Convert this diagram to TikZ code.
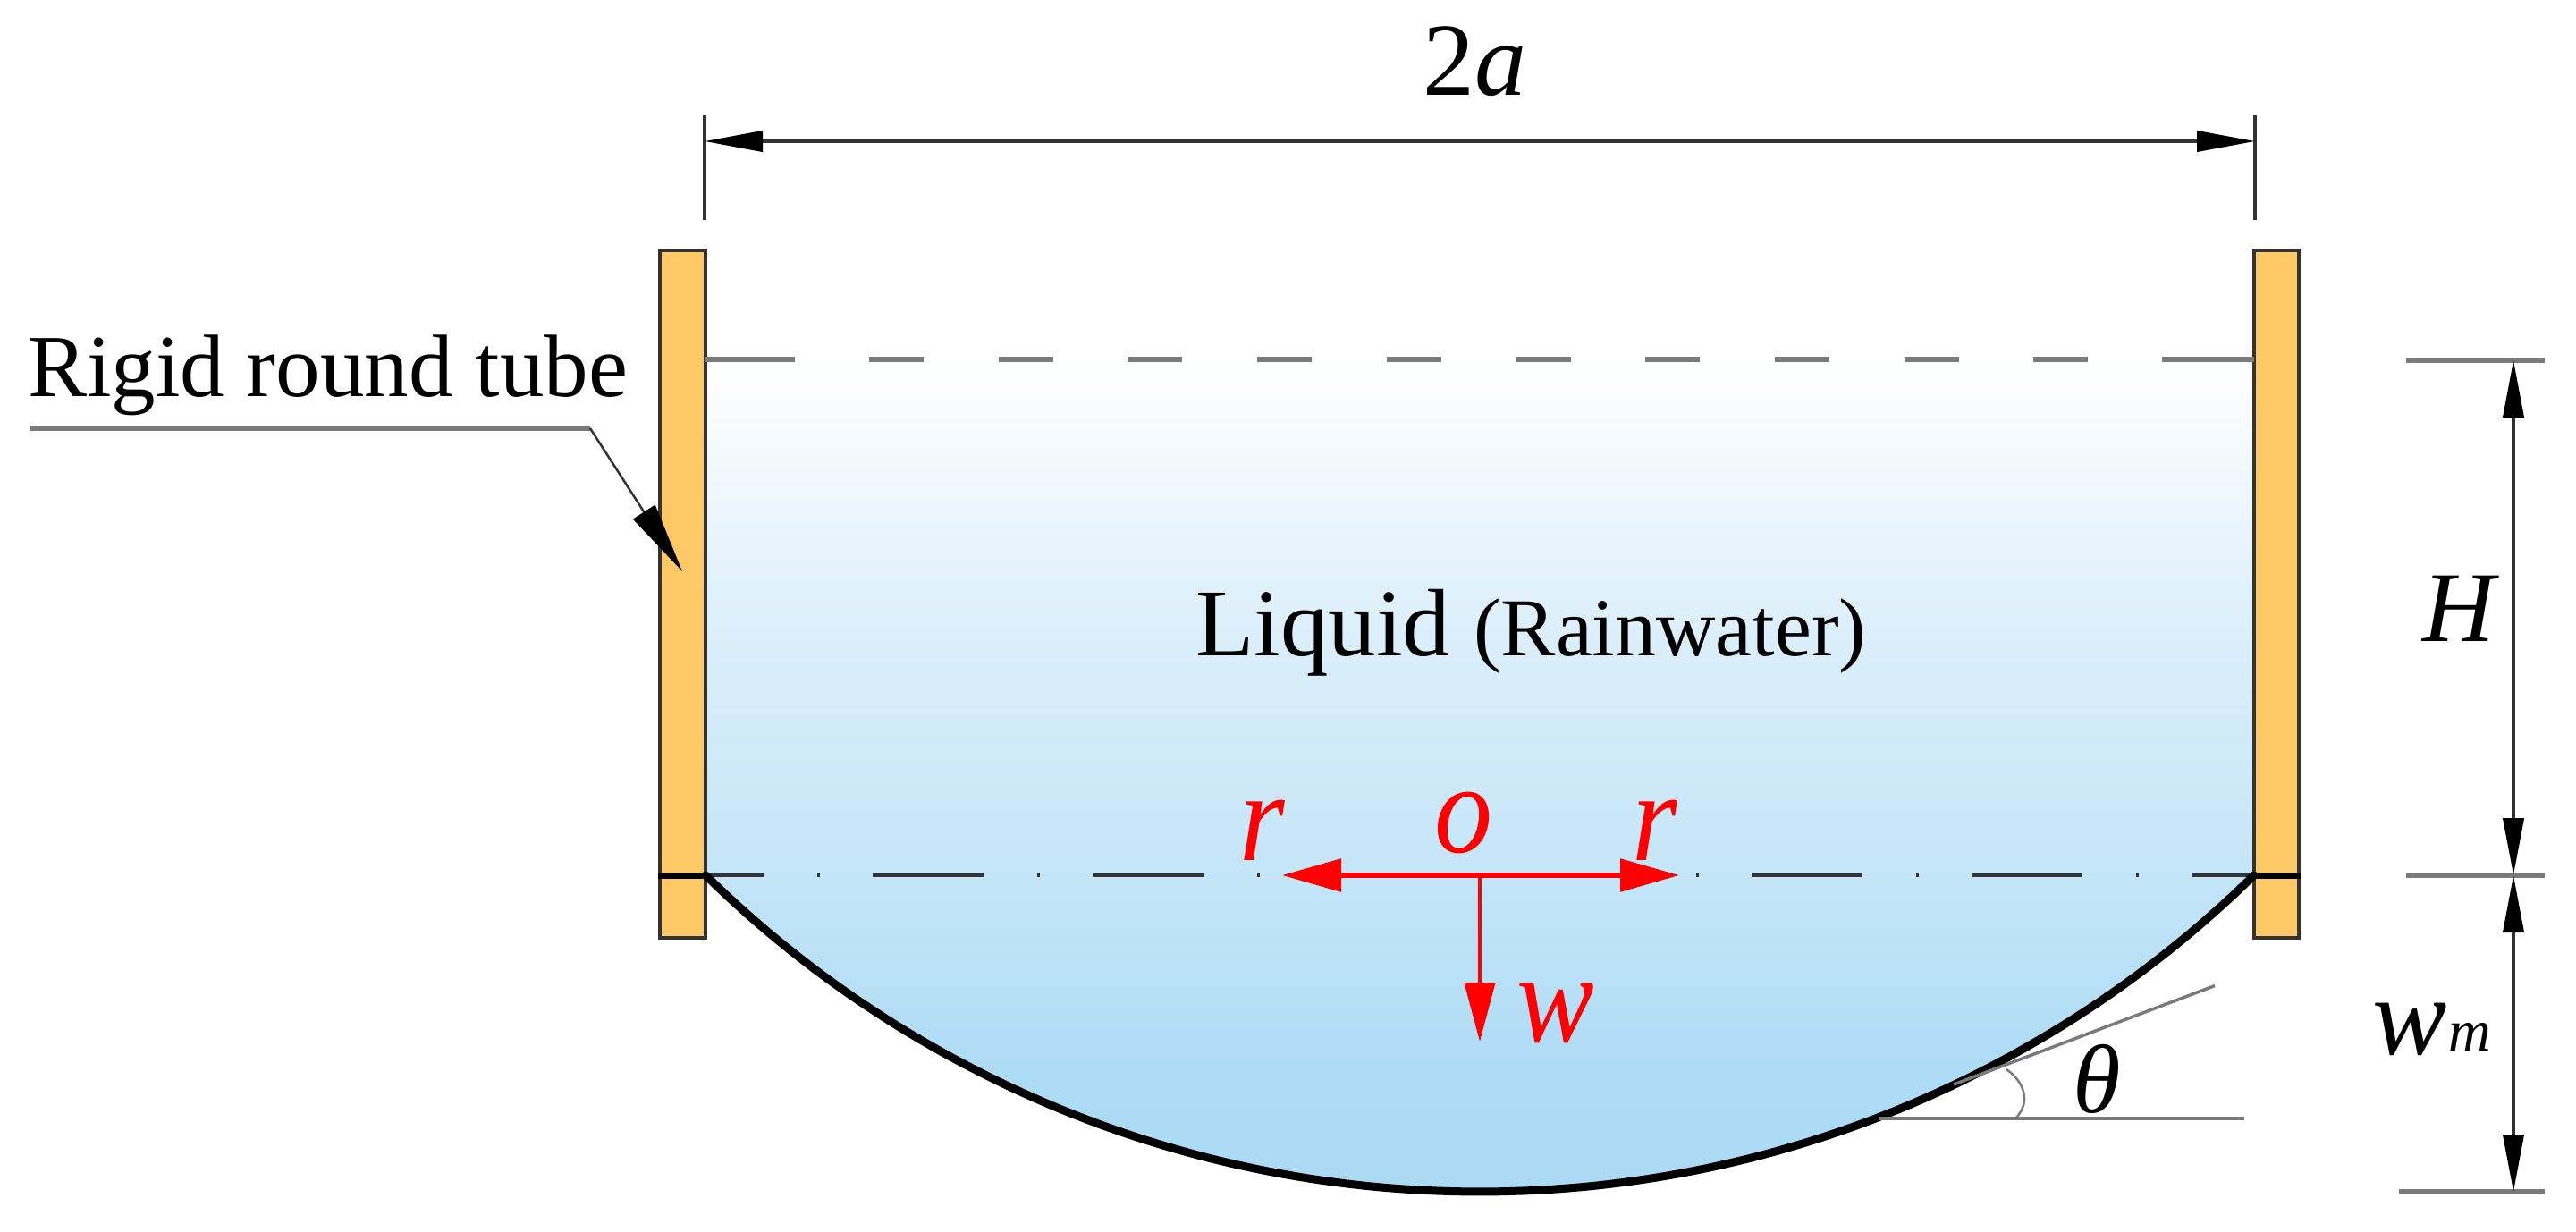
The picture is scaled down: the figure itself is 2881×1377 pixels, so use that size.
\documentclass[tikz,border=0pt]{standalone}
\usepackage{fontspec}
\usepackage{graphicx}
\setmainfont{Liberation Serif}
\usetikzlibrary{arrows.meta}
\definecolor{tubefill}{HTML}{FDC865}
\definecolor{dimgray}{HTML}{7A7A7A}
\definecolor{darkline}{HTML}{333333}
\definecolor{redaxis}{HTML}{FF0000}
\definecolor{lqa}{HTML}{ACDAF4}
\definecolor{lqb}{HTML}{AEDBF5}
\definecolor{lqc}{HTML}{C4E5F8}
\definecolor{lqd}{HTML}{DCEFFA}
\definecolor{lqe}{HTML}{FFFFFF}
\pgfdeclareverticalshading{liquidfade}{100bp}{
  color(0bp)=(lqa);
  color(25bp)=(lqa);
  color(32bp)=(lqb);
  color(44bp)=(lqc);
  color(59bp)=(lqd);
  color(75bp)=(lqe);
  color(100bp)=(lqe)}
\newcommand{\fs}[1]{\fontsize{#1}{#1}\selectfont}
\newcommand{\tallish}[1]{\scalebox{1}[1.1]{#1}}
\tikzset{
  x=1pt,y=-1pt,
  tubebox/.style={fill=tubefill,draw=darkline,line width=3.5pt},
  lab/.style={inner sep=0pt,outer sep=0pt,text=black,anchor=base},
  redlab/.style={lab,text=redaxis,font=\fs{130}\itshape},
  tick/.style={draw=dimgray,line width=5.5pt},
  extline/.style={draw=darkline,line width=4pt},
  dimline/.style={draw=darkline,line width=4pt},
}
\begin{document}
\begin{tikzpicture}
\path[use as bounding box,fill=white] (0,0) rectangle (2881,1377);
% coordinates
\coordinate (wlTop) at (789,402);
\coordinate (wrTop) at (2521,402);
\coordinate (wl) at (789,979);
\coordinate (wr) at (2521,979);
\coordinate (O) at (1655,979);
% liquid
\shade[shading=liquidfade]
  (wlTop) -- (wrTop) -- (wr)
  -- plot[domain=44.47:-44.47,samples=121] ({1655+1236*sin(\x)},{97+1236*cos(\x)})
  -- cycle;
% tubes
\draw[tubebox] (738,280) rectangle (789,1049);
\draw[tubebox] (2521,280) rectangle (2571,1049);
\coordinate (bandLa) at (736,979);
\coordinate (bandRb) at (2573,979);
\draw[black,line width=7pt] (bandLa) -- (wl);
\draw[black,line width=7pt] (wr) -- (bandRb);
% free surface dashed line
\coordinate (d1) at (889,402);
\coordinate (d2) at (2418,402);
\coordinate (d3) at (972,402);
\coordinate (d4) at (2338,402);
\draw[tick] (wlTop) -- (d1);
\draw[tick] (d2) -- (wrTop);
\draw[tick,dash pattern=on 61pt off 83.7pt] (d3) -- (d4);
% centre line
\draw[draw=darkline,line width=4.5pt,dash pattern=on 124pt off 60pt on 3pt off 58.75pt,dash phase=58.6pt] (wl) -- (wr);
% membrane
\draw[black,line width=9pt,line join=round,line cap=round]
  plot[domain=-44.47:44.47,samples=121] ({1655+1236*sin(\x)},{97+1236*cos(\x)});
% 2a dimension
\coordinate (e1a) at (788,129); \coordinate (e1b) at (788,246);
\coordinate (e2a) at (2522,129); \coordinate (e2b) at (2522,246);
\draw[extline] (e1a) -- (e1b);
\draw[extline] (e2a) -- (e2b);
\coordinate (t1) at (788,158); \coordinate (t2) at (2522,158);
\draw[dimline,{Triangle[length=65pt,width=23pt,color=black]}-{Triangle[length=65pt,width=23pt,color=black]}] (t1) -- (t2);
\node[lab,font=\fs{116}] (lab2a) at (1649,106) {2\textit{a}};
% right-hand dimensions
\coordinate (tkAa) at (2691,403); \coordinate (tkAb) at (2846,403);
\coordinate (tkBa) at (2691,979); \coordinate (tkBb) at (2846,979);
\coordinate (tkCa) at (2683,1333); \coordinate (tkCb) at (2846,1333);
\draw[tick] (tkAa) -- (tkAb);
\draw[tick] (tkBa) -- (tkBb);
\draw[tick] (tkCa) -- (tkCb);
\coordinate (vA) at (2811,403); \coordinate (vB) at (2811,979); \coordinate (vC) at (2811,1333);
\draw[dimline,{Triangle[length=64pt,width=23pt,color=black]}-{Triangle[length=64pt,width=23pt,color=black]}] (vA) -- (vB);
\draw[dimline,{Triangle[length=64pt,width=23pt,color=black]}-{Triangle[length=64pt,width=23pt,color=black]}] (vB) -- (vC);
\node[lab,font=\fs{112}\itshape] (labH) at (2750,717) {H};
\node[lab,font=\fs{125}\itshape] (labw) at (2695,1179) {w};
\node[lab,font=\fs{66}\itshape] (labm) at (2762,1175) {m};
% tangent and angle
\coordinate (ha) at (2101,1251); \coordinate (hb) at (2510,1251);
\coordinate (sa) at (2185,1213); \coordinate (sb) at (2477,1102.5);
\draw[draw=dimgray,line width=4.5pt] (ha) -- (hb);
\draw[draw=dimgray,line width=3.5pt] (sa) -- (sb);
\coordinate (aa) at (2254,1251); \coordinate (ab) at (2244,1196);
\draw[draw=dimgray,line width=2.5pt] (aa) .. controls (2272,1233) and (2264,1210) .. (ab);
\node[lab,font=\fs{109}\itshape] (labT) at (2345,1244) {θ};
% red axes
\coordinate (rL) at (1434,979); \coordinate (rR) at (1878,979); \coordinate (rD) at (1655,1165);
\draw[draw=redaxis,line width=5.5pt,-{Triangle[length=66pt,width=36pt]}] (O) -- (rL);
\draw[draw=redaxis,line width=5.5pt,-{Triangle[length=66pt,width=36pt]}] (O) -- (rR);
\draw[draw=redaxis,line width=4pt,-{Triangle[length=66pt,width=34pt]}] (O) -- (rD);
\node[redlab] (labrL) at (1412,962) {\tallish{r}};
\node[redlab] (labrR) at (1851,962) {\tallish{r}};
\node[redlab] (labO) at (1637,953) {\tallish{o}};
\node[redlab] (labWr) at (1740,1165) {\tallish{w}};
% liquid label
\node[lab,anchor=base west,font=\fs{107}] (labLiq) at (1337,733) {Liquid};
\node[lab,anchor=base west,font=\fs{92}] (labRain) at (1648,733) {(Rainwater)};
% tube label and leader
\node[lab,anchor=base west,font=\fs{99}] (labTube) at (31,443) {Rigid round tube};
\coordinate (lA) at (33,479); \coordinate (lB) at (660,479); \coordinate (lC) at (763,639);
\draw[tick] (lA) -- (lB);
\draw[draw=darkline,line width=2.5pt,-{Triangle[length=79pt,width=29pt,color=black]}] (lB) -- (lC);
\end{tikzpicture}
\end{document}
